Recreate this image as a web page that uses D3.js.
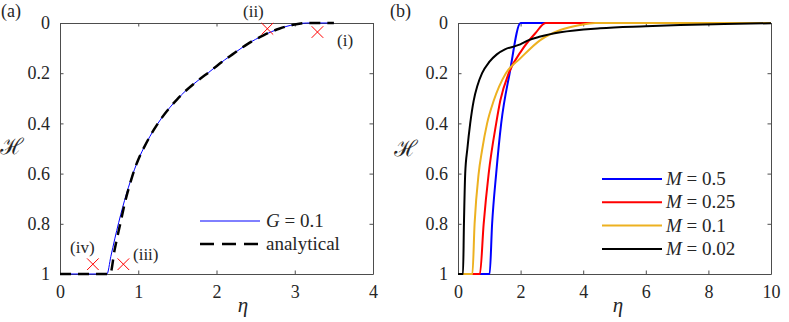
<!DOCTYPE html>
<html>
<head>
<meta charset="utf-8">
<script src="https://cdn.jsdelivr.net/npm/d3@7"></script>
<style>
  body { margin: 0; background: #fff; }
  svg text { font-family: "Liberation Serif", "Times New Roman", Tinos, "Noto Serif", "DejaVu Serif", serif; }
  .axis path, .axis line { stroke: #4d4d4d; }
  .axis text { fill: #262626; font-size: 18px; }
</style>
</head>
<body>
<div id="chart"></div>
<script>
// panel (a) data
var etaG = [0, 0.6, 0.65, 0.7, 0.75, 0.8, 0.85, 0.9, 0.95, 1.0, 1.1, 1.2, 1.3, 1.4, 1.5, 1.6, 1.7, 1.8, 1.9, 2.0, 2.1, 2.2, 2.3, 2.4, 2.5, 2.6, 2.7, 2.8, 2.9, 3.0, 3.1, 3.15, 3.5];
var hG   = [1, 1, 0.93, 0.86, 0.795, 0.735, 0.68, 0.63, 0.585, 0.545, 0.48, 0.425, 0.378, 0.338, 0.303, 0.272, 0.245, 0.22, 0.197, 0.172, 0.148, 0.126, 0.104, 0.083, 0.065, 0.049, 0.035, 0.023, 0.013, 0.006, 0.001, 0, 0];
var etaAn = [0, 0.64, 0.7, 0.77, 0.83, 0.9, 0.95, 1.0, 1.1, 1.2, 1.3, 1.4, 1.5, 1.6, 1.7, 1.8, 1.9, 2.0, 2.1, 2.2, 2.3, 2.4, 2.5, 2.6, 2.7, 2.8, 2.9, 3.0, 3.1, 3.15, 3.5];
var hAn   = [1, 1, 0.9, 0.8, 0.715, 0.635, 0.585, 0.545, 0.48, 0.425, 0.378, 0.338, 0.303, 0.272, 0.245, 0.22, 0.197, 0.172, 0.148, 0.126, 0.104, 0.083, 0.065, 0.049, 0.035, 0.023, 0.013, 0.006, 0.001, 0, 0];
var crossEta = [3.29, 2.65, 0.81, 0.42];
var crossH   = [0.036, 0.023, 0.961, 0.961];
var crossLabels = ["(i)", "(ii)", "(iii)", "(iv)"];

// panel (b) data
var etaM05 = [0, 1.01, 1.09, 1.22, 1.38, 1.65, 2.0, 10];
var hM05   = [1, 1, 0.8, 0.6, 0.4, 0.2, 0, 0];
var etaM025 = [0, 0.7, 0.82, 0.98, 1.22, 1.35, 1.62, 2.04, 2.47, 2.8, 10];
var hM025   = [1, 1, 0.8, 0.6, 0.4, 0.31, 0.2, 0.108, 0.041, 0, 0];
var etaM01 = [0, 0.46, 0.53, 0.66, 0.77, 0.93, 1.14, 1.53, 1.99, 2.63, 3.27, 3.9, 4.38, 10];
var hM01   = [1, 1, 0.8, 0.6, 0.506, 0.4, 0.31, 0.2, 0.141, 0.068, 0.028, 0.008, 0, 0];
var etaM002 = [0, 0.16, 0.19, 0.23, 0.3, 0.39, 0.5, 0.62, 0.77, 1.0, 1.24, 1.5, 1.83, 1.99, 2.26, 2.63, 3.27, 4.54, 6, 7.1, 8.5, 10];
var hM002   = [1, 1, 0.8, 0.6, 0.5, 0.4, 0.31, 0.25, 0.2, 0.155, 0.125, 0.105, 0.092, 0.085, 0.068, 0.054, 0.037, 0.021, 0.013, 0.008, 0.004, 0.001];
var mLabels = ["0.5", "0.25", "0.1", "0.02"];
var mColors = ["#0000ff", "#ff0000", "#edb120", "#000000"];

var xTicksA = [0, 1, 2, 3, 4];
var xTicksB = [0, 2, 4, 6, 8, 10];
var yTicks = [0, 0.2, 0.4, 0.6, 0.8, 1];

var W = 789, H = 322;
var svg = d3.select("#chart").append("svg").attr("width", W).attr("height", H);

function zip(xs, ys) { return xs.map(function(d, i) { return [d, ys[i]]; }); }

function drawAxes(g, x, y, xTicks, w, h) {
  g.append("g").attr("class", "axis").attr("font-family", null).attr("transform", "translate(0," + h + ")")
    .call(d3.axisBottom(x).tickValues(xTicks).tickSizeInner(-3.5).tickSizeOuter(0).tickPadding(11).tickFormat(d3.format("d")));
  g.append("g").attr("class", "axis")
    .call(d3.axisTop(x).tickValues(xTicks).tickSizeInner(-3.5).tickSizeOuter(0).tickFormat(""));
  g.append("g").attr("class", "axis")
    .call(d3.axisLeft(y).tickValues(yTicks).tickSizeInner(-3.5).tickSizeOuter(0).tickPadding(10).tickFormat(function(d) { return d === 0 || d === 1 ? d : d3.format(".1f")(d); }));
  g.append("g").attr("class", "axis").attr("transform", "translate(" + w + ",0)")
    .call(d3.axisRight(y).tickValues(yTicks).tickSizeInner(-3.5).tickSizeOuter(0).tickFormat(""));
  g.selectAll(".axis").attr("font-family", null);
}

// ---- panel (a)
var a = {left: 60, top: 23, w: 313, h: 251};
var ga = svg.append("g").attr("transform", "translate(" + a.left + "," + a.top + ")");
var xa = d3.scaleLinear().domain([0, 4]).range([0, a.w]);
var ya = d3.scaleLinear().domain([0, 1]).range([0, a.h]);
drawAxes(ga, xa, ya, xTicksA, a.w, a.h);

var lineA = d3.line().x(function(d) { return xa(d[0]); }).y(function(d) { return ya(d[1]); }).curve(d3.curveMonotoneX);

ga.append("path").datum(zip(etaG, hG)).attr("d", lineA)
  .attr("fill", "none").attr("stroke", "#0000ff").attr("stroke-width", 1);
ga.append("path").datum(zip(etaAn, hAn)).attr("d", lineA)
  .attr("fill", "none").attr("stroke", "#000").attr("stroke-width", 2.5).attr("stroke-dasharray", "11,7");

// red crosses
ga.selectAll(".cross").data(zip(crossEta, crossH)).enter().append("path")
  .attr("transform", function(d) { return "translate(" + xa(d[0]) + "," + ya(d[1]) + ")"; })
  .attr("d", d3.symbol().type(d3.symbolTimes).size(90))
  .attr("fill", "none").attr("stroke", "#ff0000").attr("stroke-width", 1);

var labelPos = [[277, 23], [183, -6], [73, 237], [10, 230]];
ga.selectAll(".clab").data(crossLabels).enter().append("text")
  .attr("x", function(d, i) { return labelPos[i][0]; })
  .attr("y", function(d, i) { return labelPos[i][1]; })
  .attr("font-size", 17).attr("fill", "#262626").text(function(d) { return d; });

// legend (a)
var lg = ga.append("g");
lg.append("line").attr("x1", 140).attr("x2", 200).attr("y1", 198).attr("y2", 198)
  .attr("stroke", "#0000ff").attr("stroke-width", 1);
lg.append("line").attr("x1", 140).attr("x2", 200).attr("y1", 221).attr("y2", 221)
  .attr("stroke", "#000").attr("stroke-width", 2.5).attr("stroke-dasharray", "14,8");
var t1 = lg.append("text").attr("x", 206).attr("y", 204).attr("font-size", 19).attr("fill", "#262626");
t1.append("tspan").attr("font-style", "italic").text("G");
t1.append("tspan").text(" = 0.1");
lg.append("text").attr("x", 206).attr("y", 227).attr("font-size", 19).attr("fill", "#262626").text("analytical");

// ---- panel (b)
var b = {left: 458, top: 23, w: 313, h: 251};
var gb = svg.append("g").attr("transform", "translate(" + b.left + "," + b.top + ")");
var xb = d3.scaleLinear().domain([0, 10]).range([0, b.w]);
var yb = d3.scaleLinear().domain([0, 1]).range([0, b.h]);
drawAxes(gb, xb, yb, xTicksB, b.w, b.h);

var lineB = d3.line().x(function(d) { return xb(d[0]); }).y(function(d) { return yb(d[1]); }).curve(d3.curveMonotoneX);
var seriesB = [zip(etaM05, hM05), zip(etaM025, hM025), zip(etaM01, hM01), zip(etaM002, hM002)];
gb.selectAll(".ser").data(seriesB).enter().append("path")
  .attr("d", lineB).attr("fill", "none")
  .attr("stroke", function(d, i) { return mColors[i]; }).attr("stroke-width", 2);

// legend (b)
var lgb = gb.selectAll(".lgb").data(mLabels).enter().append("g")
  .attr("transform", function(d, i) { return "translate(0," + (156 + i * 23.3) + ")"; });
lgb.append("line").attr("x1", 144).attr("x2", 204).attr("y1", 0).attr("y2", 0)
  .attr("stroke", function(d, i) { return mColors[i]; }).attr("stroke-width", 2);
var tb = lgb.append("text").attr("x", 208).attr("y", 6).attr("font-size", 19).attr("fill", "#262626");
tb.append("tspan").attr("font-style", "italic").text("M");
tb.append("tspan").text(function(d) { return " = " + d; });

// panel letters and axis titles
svg.append("text").attr("x", 1).attr("y", 17).attr("font-size", 18).attr("fill", "#262626").text("(a)");
svg.append("text").attr("x", 390).attr("y", 17).attr("font-size", 18).attr("fill", "#262626").text("(b)");
[[243, 312], [618, 312]].forEach(function(p) {
  svg.append("text").attr("x", p[0]).attr("y", p[1]).attr("text-anchor", "middle")
    .attr("font-size", 21).attr("font-style", "italic").attr("fill", "#262626").text("η");
});
[[12, 154], [406, 156]].forEach(function(p) {
  svg.append("text").attr("x", p[0]).attr("y", p[1]).attr("text-anchor", "middle")
    .attr("font-size", 22).attr("font-style", "italic").attr("fill", "#262626").text("ℋ");
});
</script>
</body>
</html>
